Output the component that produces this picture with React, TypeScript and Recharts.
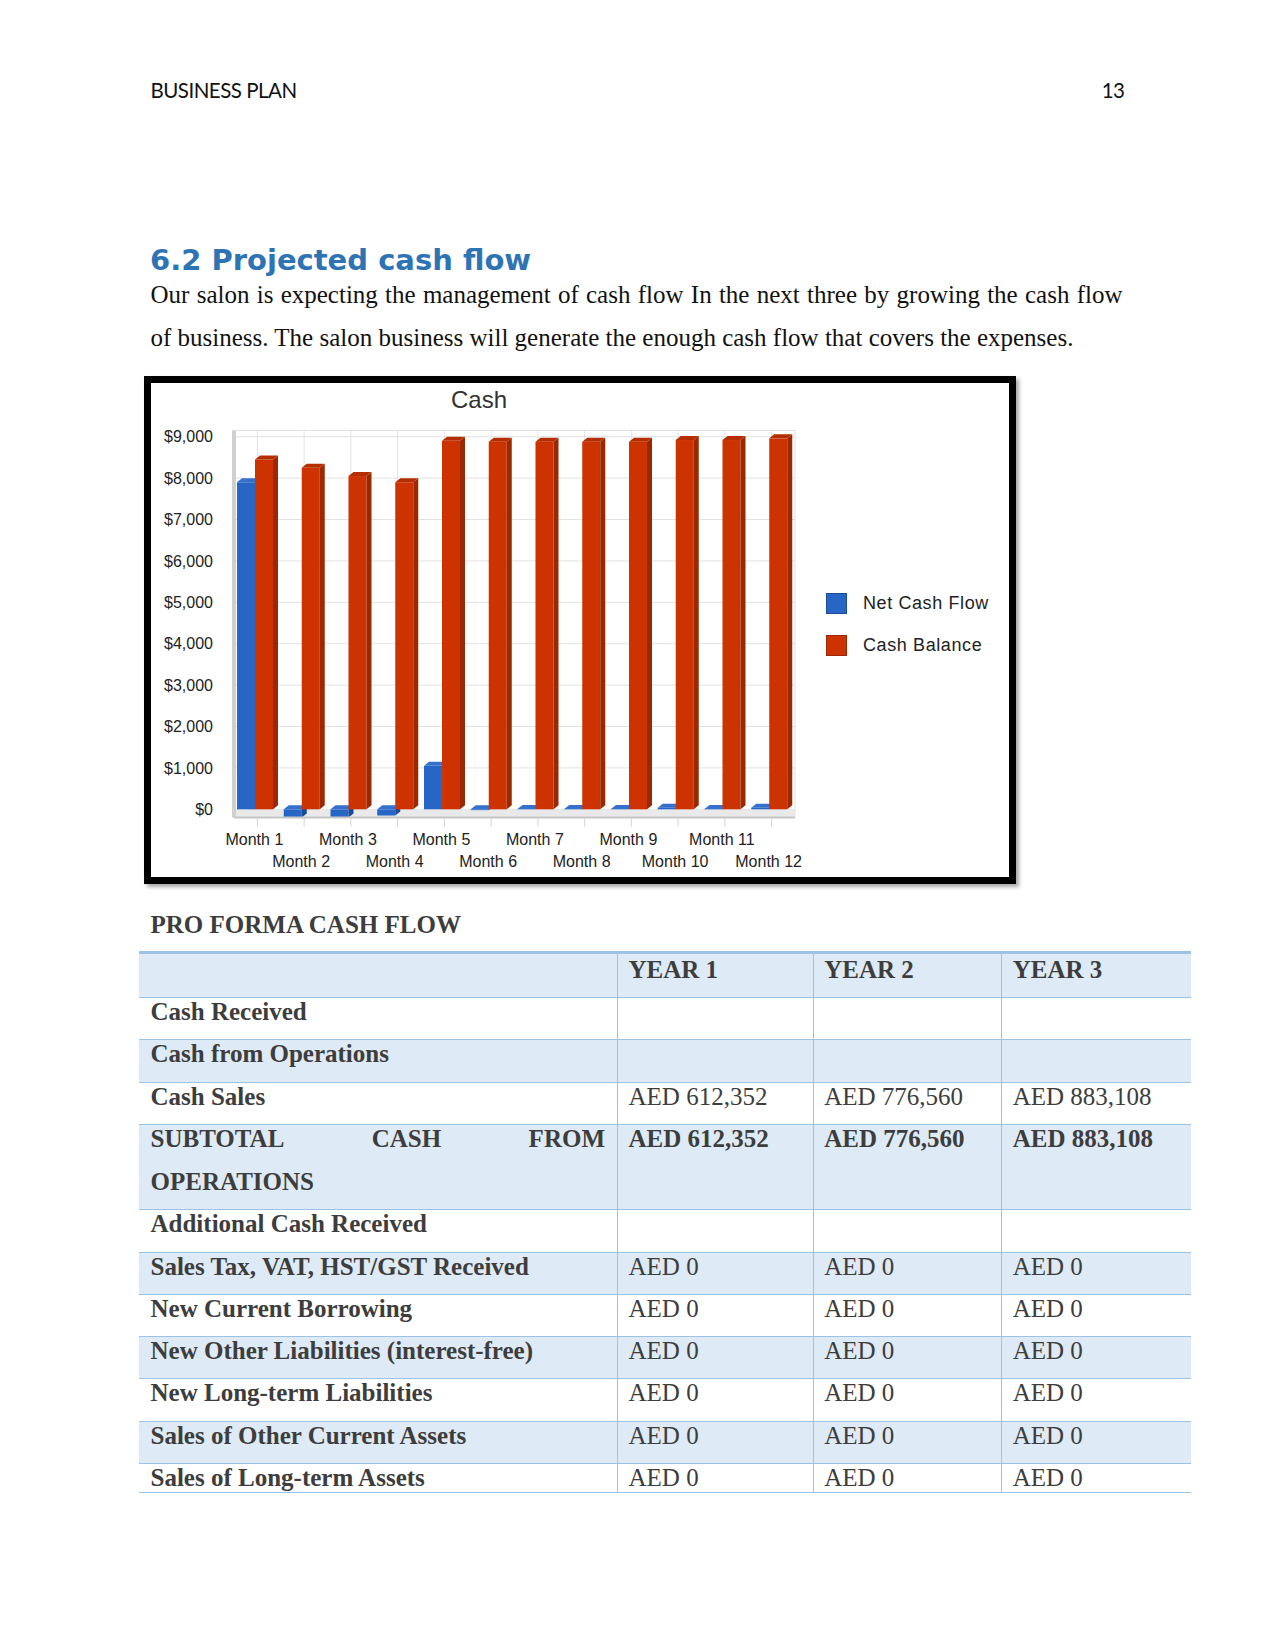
import React from "react";
import { Bar, BarChart, CartesianGrid, ReferenceArea, XAxis, YAxis } from "recharts";

const months = [
  "Month 1", "Month 2", "Month 3", "Month 4", "Month 5", "Month 6",
  "Month 7", "Month 8", "Month 9", "Month 10", "Month 11", "Month 12",
];
const netCashFlow = [7900, -200, -200, -150, 1050, -20, 10, 10, 10, 40, 10, 40];
const cashBalance = [8450, 8250, 8050, 7900, 8900, 8880, 8880, 8880, 8880, 8920, 8920, 8960];
const yTicks = [0, 1000, 2000, 3000, 4000, 5000, 6000, 7000, 8000, 9000];

const yearHeaders = ["YEAR 1", "YEAR 2", "YEAR 3"];
const rowLabels = [
  "Cash Received",
  "Cash from Operations",
  "Cash Sales",
  "SUBTOTAL CASH FROM OPERATIONS",
  "Additional Cash Received",
  "Sales Tax, VAT, HST/GST Received",
  "New Current Borrowing",
  "New Other Liabilities (interest-free)",
  "New Long-term Liabilities",
  "Sales of Other Current Assets",
  "Sales of Long-term Assets",
];
const year1 = ["", "", "AED 612,352", "AED 612,352", "", "AED 0", "AED 0", "AED 0", "AED 0", "AED 0", "AED 0"];
const year2 = ["", "", "AED 776,560", "AED 776,560", "", "AED 0", "AED 0", "AED 0", "AED 0", "AED 0", "AED 0"];
const year3 = ["", "", "AED 883,108", "AED 883,108", "", "AED 0", "AED 0", "AED 0", "AED 0", "AED 0", "AED 0"];

const data = months.map((m, i) => ({ month: m, net: netCashFlow[i], balance: cashBalance[i] }));

const BLUE = { front: "#2866c5", side: "#1c4a94", top: "#3470cc" };
const RED = { front: "#cc3300", side: "#9a2800", top: "#b52e00" };

const chartFont = "'Liberation Sans', Arial, sans-serif";

function Bar3D(props: any) {
  const { x, y, width, height, colors } = props;
  if (x == null || y == null || !width) return null;
  const d = 5;
  const dy = 4;
  const h = Math.abs(height);
  const t = height < 0 ? y + height : y;
  const fw = width - d;
  return (
    <g>
      <rect x={x} y={t} width={fw} height={h} fill={colors.front} />
      <polygon
        points={`${x + fw},${t} ${x + width},${t - dy} ${x + width},${t + h - dy} ${x + fw},${t + h}`}
        fill={colors.side}
      />
      <polygon
        points={`${x},${t} ${x + d},${t - dy} ${x + width},${t - dy} ${x + fw},${t}`}
        fill={colors.top}
      />
    </g>
  );
}

function MonthTick(props: any) {
  const { x, y, payload } = props;
  const i = months.indexOf(payload.value);
  const dy = i % 2 === 0 ? 12.5 : 34.5;
  return (
    <text
      x={x - 3}
      y={y + dy}
      textAnchor="middle"
      dominantBaseline="central"
      fontSize={16}
      fill="#222"
      fontFamily={chartFont}
    >
      {payload.value}
    </text>
  );
}

function CashLegend() {
  const items = [
    { label: "Net Cash Flow", c: BLUE },
    { label: "Cash Balance", c: RED },
  ];
  return (
    <div style={{ position: "absolute", left: 675, top: 199 }}>
      {items.map((it) => (
        <div key={it.label} style={{ display: "flex", alignItems: "center", height: 42 }}>
          <div
            style={{
              width: 21,
              height: 21,
              boxSizing: "border-box",
              background: it.c.front,
              border: `1px solid ${it.c.side}`,
            }}
          />
          <span
            style={{
              marginLeft: 16,
              fontFamily: chartFont,
              fontSize: 18,
              letterSpacing: 0.6,
              color: "#222",
              whiteSpace: "nowrap",
            }}
          >
            {it.label}
          </span>
        </div>
      ))}
    </div>
  );
}

function CashChart() {
  return (
    <BarChart
      width={858}
      height={494}
      data={data}
      margin={{ top: 47.5, right: 214, left: 0, bottom: 0 }}
      barSize={23}
      barGap={-5}
    >
      <CartesianGrid stroke="#e2e2e2" />
      <ReferenceArea y1={-200} y2={0} fill="#e9e9e9" fillOpacity={1} stroke="none" ifOverflow="visible" />
      <XAxis
        dataKey="month"
        height={59.4}
        interval={0}
        tickSize={9}
        tickMargin={0}
        tickLine={{ stroke: "#d4d4d4" }}
        axisLine={{ stroke: "#c6c6c6", strokeWidth: 2 }}
        tick={<MonthTick />}
      />
      <XAxis xAxisId="top" dataKey="month" orientation="top" height={0} tick={false} tickLine={false} axisLine={{ stroke: "#cfcfdc" }} />
      <YAxis
        width={83}
        domain={[-200, 9150]}
        ticks={yTicks}
        interval={0}
        tickSize={0}
        tickMargin={21}
        axisLine={{ stroke: "#cfcfcf", strokeWidth: 4 }}
        tickFormatter={(v: number) => `$${v.toLocaleString("en-US")}`}
        tick={{ fontSize: 16, fill: "#222", fontFamily: chartFont }}
      />
      <YAxis yAxisId="right" orientation="right" width={0} domain={[-200, 9150]} tick={false} tickLine={false} axisLine={{ stroke: "#cfcfdc" }} />
      <Bar dataKey="net" name="Net Cash Flow" fill={BLUE.front} isAnimationActive={false} shape={(p: any) => <Bar3D {...p} colors={BLUE} />} />
      <Bar dataKey="balance" name="Cash Balance" fill={RED.front} isAnimationActive={false} shape={(p: any) => <Bar3D {...p} colors={RED} />} />
    </BarChart>
  );
}

const serif = "'Liberation Serif', 'Times New Roman', serif";
const tableColor = "#3d3d3d";
const shade = "#deeaf6";
const lineColor = "#9cc2e5";
const colX = [139, 617, 812.7, 1001.2, 1191];

function CashTable() {
  const rowH = 42.3;
  const rows: { top: number; h: number; i: number }[] = [];
  let top = 997;
  rowLabels.forEach((label, i) => {
    const isSub = label.startsWith("SUBTOTAL");
    const isLast = i === rowLabels.length - 1;
    const h = isSub ? 85.3 : isLast ? 29.5 : rowH;
    rows.push({ top, h, i });
    top += h;
  });

  const cellText = (text: string, bold: boolean, col: number, y: number, pad: number, key: string) => (
    <div
      key={key}
      style={{
        position: "absolute",
        left: colX[col] + 11.5,
        top: y + pad,
        lineHeight: "30px",
        fontFamily: serif,
        fontSize: 25,
        fontWeight: bold ? 700 : 400,
        color: tableColor,
        whiteSpace: "nowrap",
      }}
    >
      {text}
    </div>
  );

  const vlines = [1, 2, 3].map((c) => (
    <div
      key={`v${c}`}
      style={{ position: "absolute", left: colX[c], top: 952.8, width: 1, height: top - 952.8, background: lineColor }}
    />
  ));

  return (
    <>
      <div style={{ position: "absolute", left: 139, top: 952.8, width: 1052, height: 44.2, background: shade }} />
      <div style={{ position: "absolute", left: 139, top: 951.3, width: 1052, height: 3, background: lineColor }} />
      {yearHeaders.map((h, c) => cellText(h, true, c + 1, 952.8, 2, `h${c}`))}
      {rows.map(({ top: rt, h, i }) => {
        const label = rowLabels[i];
        const isSub = label.startsWith("SUBTOTAL");
        const words = label.split(" ");
        return (
          <React.Fragment key={`r${i}`}>
            <div
              style={{
                position: "absolute",
                left: 139,
                top: rt,
                width: 1052,
                height: h,
                background: i % 2 === 1 || isSub ? shade : "#fff",
                borderTop: `1px solid ${lineColor}`,
                boxSizing: "border-box",
              }}
            />
            {isSub ? (
              <>
                <div
                  style={{
                    position: "absolute",
                    left: colX[0] + 11.5,
                    width: colX[1] - colX[0] - 23.5,
                    top: rt,
                    lineHeight: "30px",
                    fontFamily: serif,
                    fontSize: 25,
                    fontWeight: 700,
                    color: tableColor,
                    display: "flex",
                    justifyContent: "space-between",
                  }}
                >
                  {words.slice(0, -1).map((w) => (
                    <span key={w}>{w}</span>
                  ))}
                </div>
                {cellText(words[words.length - 1], true, 0, rt, 43, `s${i}`)}
              </>
            ) : (
              cellText(label, true, 0, rt, 0, `l${i}`)
            )}
            {cellText(year1[i], isSub, 1, rt, 0, `a${i}`)}
            {cellText(year2[i], isSub, 2, rt, 0, `b${i}`)}
            {cellText(year3[i], isSub, 3, rt, 0, `c${i}`)}
          </React.Fragment>
        );
      })}
      <div style={{ position: "absolute", left: 139, top: top - 1, width: 1052, height: 1, background: lineColor }} />
      {vlines}
    </>
  );
}

export default function App() {
  const headerFont: React.CSSProperties = {
    position: "absolute",
    top: 79,
    lineHeight: "22px",
    fontFamily: "Lato, sans-serif",
    fontSize: 20.5,
    letterSpacing: -0.5,
    color: "#111",
  };
  return (
    <div style={{ position: "absolute", left: 0, top: 0, width: 1275, height: 1651, background: "#fff" }}>
      <div style={{ ...headerFont, left: 150.5 }}>BUSINESS PLAN</div>
      <div style={{ ...headerFont, right: 1275 - 1124.5 }}>13</div>
      <div
        style={{
          position: "absolute",
          left: 150,
          top: 243,
          lineHeight: "34px",
          fontFamily: "'DejaVu Sans', sans-serif",
          fontWeight: 700,
          fontSize: 29,
          color: "#2e74b5",
        }}
      >
        6.2 Projected cash flow
      </div>
      <div
        style={{
          position: "absolute",
          left: 150.5,
          top: 280,
          width: 972,
          lineHeight: "30px",
          fontFamily: serif,
          fontSize: 25,
          color: "#111",
          textAlign: "justify",
          textAlignLast: "justify",
          whiteSpace: "nowrap",
        }}
      >
        Our salon is expecting the management of cash flow In the next three by growing the cash flow
      </div>
      <div
        style={{ position: "absolute", left: 150.5, top: 323, lineHeight: "30px", fontFamily: serif, fontSize: 25, color: "#111", whiteSpace: "nowrap" }}
      >
        of business. The salon business will generate the enough cash flow that covers the expenses.
      </div>

      <div
        style={{
          position: "absolute",
          left: 144,
          top: 376,
          width: 872,
          height: 508,
          boxSizing: "border-box",
          border: "7px solid #000",
          background: "#fff",
          boxShadow: "3px 3px 4px rgba(0,0,0,0.35)",
        }}
      >
        <div
          style={{
            position: "absolute",
            left: 0,
            width: 656,
            top: 3,
            textAlign: "center",
            lineHeight: "28px",
            fontFamily: chartFont,
            fontSize: 24,
            color: "#333",
          }}
        >
          Cash
        </div>
        <CashChart />
        <CashLegend />
      </div>

      <div
        style={{ position: "absolute", left: 150.5, top: 909.5, lineHeight: "30px", fontFamily: serif, fontSize: 25, fontWeight: 700, color: tableColor }}
      >
        PRO FORMA CASH FLOW
      </div>
      <CashTable />
    </div>
  );
}
